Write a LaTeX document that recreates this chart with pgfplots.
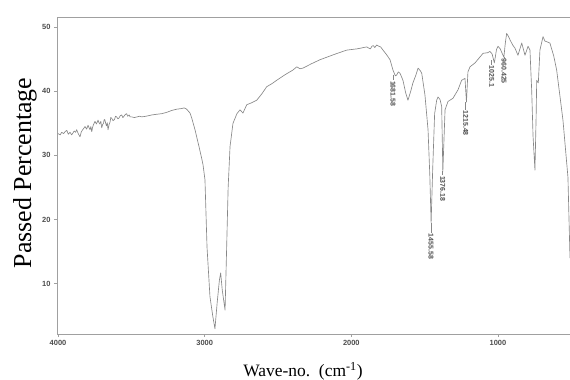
\documentclass[border=0pt]{standalone}
\usepackage{fontspec}
\setmainfont{Liberation Serif}
\newfontfamily\tickfont{Liberation Sans}
\usepackage{pgfplots}
\usepackage{pgfplotstable}
\pgfplotsset{compat=1.18}
\definecolor{curve}{RGB}{135,135,135}
\definecolor{axcol}{RGB}{160,160,160}
\pgfplotstableread{
w t
4000 33.4
3985 33.2
3975 33.6
3962 33.4
3952 33.7
3940 33.9
3930 33.3
3918 33.6
3907 33.2
3898 33.5
3890 33.8
3880 33.6
3873 34.0
3866 33.6
3860 33.3
3850 32.9
3842 33.6
3835 33.9
3825 34.2
3816 34.5
3805 34.1
3795 34.7
3788 34.3
3782 34.0
3776 34.5
3770 33.7
3764 34.4
3758 34.8
3748 35.3
3738 34.9
3727 35.5
3721 35.1
3715 34.9
3708 35.3
3702 34.3
3696 34.8
3690 35.0
3685 35.6
3680 35.5
3675 35.0
3670 34.6
3664 35.1
3659 34.0
3652 34.8
3645 35.2
3640 35.9
3634 35.8
3625 35.4
3615 35.6
3608 36.1
3600 36.0
3592 35.7
3585 35.8
3575 36.2
3566 36.3
3558 35.9
3550 36.1
3540 36.4
3532 36.5
3525 36.1
3515 36.3
3508 36.0
3498 36.0
3480 35.9
3460 36.0
3445 36.1
3429 36.0
3400 36.1
3361 36.3
3330 36.4
3293 36.5
3260 36.7
3225 37.0
3190 37.2
3157 37.3
3140 37.4
3123 37.2
3100 36.6
3088 35.8
3066 34.0
3040 31.5
3020 29.5
3011 28.5
2998 26.2
2984 15.7
2964 8.0
2945 5.0
2930 3.0
2915 7.0
2900 10.5
2891 11.7
2880 9.0
2861 5.9
2850 15.8
2840 25.0
2827 31.4
2807 35.0
2780 36.5
2759 37.1
2739 36.6
2713 37.9
2680 38.2
2645 38.6
2610 39.6
2577 40.7
2540 41.2
2509 41.7
2450 42.6
2398 43.3
2372 43.8
2350 43.5
2330 43.6
2270 44.3
2214 44.9
2120 45.7
2032 46.4
1960 46.6
1895 46.9
1880 46.7
1870 46.6
1860 47.0
1850 47.1
1840 46.8
1827 47.2
1812 47.0
1800 46.9
1784 46.4
1760 45.7
1736 44.9
1716 43.3
1700 42.4
1691 42.5
1680 43.0
1668 42.8
1648 41.7
1630 39.8
1614 38.6
1595 40.0
1580 41.3
1560 42.5
1545 43.6
1530 43.2
1520 42.8
1498 39.4
1477 34.0
1465 27.0
1456 19.5
1445 28.0
1432 36.5
1418 38.6
1409 39.1
1395 38.7
1384 37.6
1376 27.5
1361 37.1
1341 38.4
1307 38.9
1273 40.2
1248 41.7
1225 42.0
1215 38.3
1205 43.0
1191 43.8
1157 44.4
1102 45.9
1070 46.0
1055 46.2
1040 45.8
1025 44.4
1010 46.5
1000 47.0
985 46.6
960 45.3
950 47.5
941 49.0
930 48.6
918 48.0
900 47.2
884 46.7
864 45.6
838 47.5
816 45.6
795 47.0
782 46.4
770 40.0
761 33.0
748 27.7
740 36.0
736 41.7
725 41.3
714 46.4
693 48.5
680 47.8
666 47.7
646 47.5
620 45.5
600 43.3
557 35.5
523 26.6
509 14.0
}\spectrum
\begin{document}
\begin{tikzpicture}
\useasboundingbox (-57bp,-46bp) rectangle (513bp,334bp);
\begin{axis}[
  scale only axis, width=513bp, height=317bp,
  x dir=reverse, xmin=509, xmax=4007, ymin=2.18, ymax=51.56,
  axis x line=box, axis y line=left,
  x axis line style={-, draw=axcol, line width=0.6bp},
  y axis line style={-, draw=axcol, line width=0.6bp},
  xtick={1000,2000,3000,4000}, ytick={10,20,30,40,50},
  xtick pos=bottom, ytick pos=left,
  tick align=outside, major tick length=3bp,
  tick style={draw=axcol, line width=0.6bp},
  /pgf/number format/assume math mode=true,
  /pgf/number format/1000 sep={},
  tick label style={font=\tickfont\bfseries\fontsize{7.5}{9}\selectfont, text=black!70},
  xlabel={Wave-no.\ \ (cm\textsuperscript{-1})},
  ylabel={Passed Percentage},
  xlabel style={font=\fontsize{17.5}{20}\selectfont, at={(axis description cs:0.4795,-0.1167)}, anchor=center},
  ylabel style={font=\fontsize{26}{30}\selectfont, at={(axis description cs:-0.0624,0.508)}, anchor=center},
  clip=false,
]
\addplot[color=curve, line width=0.65bp, line join=round] table[x=w,y=t] {\spectrum};
\begin{scope}[every node/.style={font=\tickfont\bfseries\fontsize{7}{8}\selectfont, text=black!70, rotate=-90, anchor=west, inner sep=0.5bp}]
\draw[color=curve, line width=0.5bp] (axis cs:1715,42.6) -- (axis cs:1715,41.7) node {1681.58};
\draw[color=curve, line width=0.5bp] (axis cs:1456,19.5) -- (axis cs:1456,17.9) node {1455.58};
\draw[color=curve, line width=0.5bp] (axis cs:1377,27.5) -- (axis cs:1377,26.9) node {1376.18};
\draw[color=curve, line width=0.5bp] (axis cs:1220,38.3) -- (axis cs:1220,37.1) node {1215.48};
\draw[color=curve, line width=0.5bp] (axis cs:1043,44.8) -- (axis cs:1043,44.1) node {1025.1};
\draw[color=curve, line width=0.5bp] (axis cs:959,45.3) -- (axis cs:959,45.2) node {960.425};
\end{scope}
\end{axis}
\end{tikzpicture}
\end{document}
